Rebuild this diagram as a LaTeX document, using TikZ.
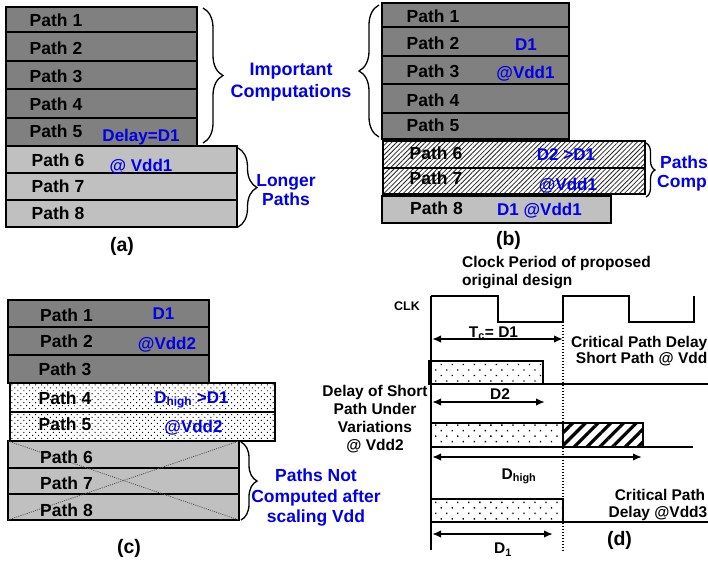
\documentclass[tikz,border=0pt]{standalone}
\usepackage{fontspec}
\setmainfont{Liberation Sans}
\usetikzlibrary{arrows.meta,patterns.meta,decorations.pathreplacing}
\definecolor{darkrow}{HTML}{808080}
\definecolor{lightrow}{HTML}{C0C0C0}
\definecolor{lblue}{RGB}{0,0,235}
\tikzset{
  rowbox/.style={draw=black, line width=1.2pt, inner sep=0pt, outer sep=0pt, anchor=north west},
  darkbox/.style={rowbox, fill=darkrow},
  lightbox/.style={rowbox, fill=lightrow},
  hatchbox/.style={rowbox, preaction={fill=white}, pattern={Lines[angle=45,distance=3.4pt,line width=0.8pt]}, pattern color=black!85},
  dotbox/.style={rowbox, preaction={fill=white}, pattern={Dots[angle=45,distance=4.2pt,radius=0.7pt]}, pattern color=black},
  pathlbl/.style={font=\fontsize{17.5}{21}\selectfont\bfseries, inner sep=0pt, text height=12.5pt, text depth=0pt},
  bluelbl/.style={font=\fontsize{17}{20}\selectfont\bfseries, text=lblue, inner sep=0pt, text height=12.2pt, text depth=0pt},
  capblue/.style={font=\fontsize{17.5}{21}\selectfont\bfseries, text=lblue, inner sep=0pt, text height=12.5pt, text depth=0pt},
  panellbl/.style={font=\fontsize{19.5}{22}\selectfont\bfseries, inner sep=0pt},
  dtext/.style={font=\fontsize{15.5}{18}\selectfont\bfseries, inner sep=0pt},
  curly/.style={decorate, decoration={brace, amplitude=#1}, line width=1.3pt},
  dimarrow/.style={{Latex[length=9pt,width=7.5pt]}-{Latex[length=9pt,width=7.5pt]}, line width=1.8pt},
  heavy/.style={line width=2pt},
  ddots/.style={draw=black, line width=1.6pt, inner sep=0pt, outer sep=0pt, anchor=north west, preaction={fill=white}, pattern={Dots[angle=45,distance=7.8pt,radius=0.95pt]}, pattern color=black},
  dhatch/.style={draw=black, line width=1.6pt, inner sep=0pt, outer sep=0pt, anchor=north west, preaction={fill=white}, pattern={Lines[angle=45,distance=9pt,line width=3.2pt]}, pattern color=black},
  crossln/.style={line width=0.8pt, dash pattern=on 1pt off 1.2pt, draw=black!70},
}
\begin{document}
\begin{tikzpicture}[x=1pt,y=-1pt]
\useasboundingbox (0,0) rectangle (708,563);
\fill[white] (0,0) rectangle (708,563);
\begin{scope}
\clip (0,0) rectangle (708,563);
% ---------------- (a)
\node[darkbox, minimum width=191pt, minimum height=25pt] (a1) at (6,7) {};
\node[darkbox, minimum width=191pt, minimum height=29pt] (a2) at (6,32) {};
\node[darkbox, minimum width=191pt, minimum height=28pt] (a3) at (6,61) {};
\node[darkbox, minimum width=191pt, minimum height=29pt] (a4) at (6,89) {};
\node[darkbox, minimum width=191pt, minimum height=28pt] (a5) at (6,118) {};
\node[lightbox, minimum width=231pt, minimum height=27pt] (a6) at (6,146) {};
\node[lightbox, minimum width=231pt, minimum height=27pt] (a7) at (6,173) {};
\node[lightbox, minimum width=231pt, minimum height=27pt] (a8) at (6,200) {};
\node[pathlbl] (a1t) at (56,20) {Path 1};
\node[pathlbl] (a2t) at (56,48) {Path 2};
\node[pathlbl] (a3t) at (56,76) {Path 3};
\node[pathlbl] (a4t) at (56,104) {Path 4};
\node[pathlbl] (a5t) at (56,131) {Path 5};
\node[pathlbl] (a6t) at (58,160) {Path 6};
\node[pathlbl] (a7t) at (58,186) {Path 7};
\node[pathlbl] (a8t) at (58,213) {Path 8};
\node[bluelbl] (aDel) at (141,135) {Delay=D1};
\node[bluelbl] (aVdd) at (141,165) {@ Vdd1};
\draw[curly=20] (203,8) -- (203,143);
\node[capblue, font=\fontsize{18}{21}\selectfont\bfseries] (aImp) at (291,69) {Important};
\node[capblue, font=\fontsize{18}{21}\selectfont\bfseries] (aCom) at (291,91) {Computations};
\draw[curly=19] (238,148) -- (238,227);
\node[capblue] (aLon) at (286,180.5) {Longer};
\node[capblue] (aPat) at (286,199) {Paths};
\node[panellbl] (aLbl) at (122,246.5) {(a)};
% ---------------- (b)
\node[darkbox, minimum width=187pt, minimum height=24pt] (b1) at (382,3) {};
\node[darkbox, minimum width=187pt, minimum height=29pt] (b2) at (382,27) {};
\node[darkbox, minimum width=187pt, minimum height=28pt] (b3) at (382,56) {};
\node[darkbox, minimum width=187pt, minimum height=29pt] (b4) at (382,84) {};
\node[darkbox, minimum width=187pt, minimum height=26pt] (b5) at (382,113) {};
\node[hatchbox, minimum width=262pt, minimum height=27pt] (b6) at (383,141) {};
\node[hatchbox, minimum width=262pt, minimum height=26pt] (b7) at (383,168) {};
\node[lightbox, minimum width=229pt, minimum height=27pt] (b8) at (382,196) {};
\node[pathlbl] (b1t) at (433,16) {Path 1};
\node[pathlbl] (b2t) at (433,43.5) {Path 2};
\node[pathlbl] (b3t) at (433,71) {Path 3};
\node[pathlbl] (b4t) at (433,100) {Path 4};
\node[pathlbl] (b5t) at (433,125) {Path 5};
\node[pathlbl] (b6t) at (436,153.5) {Path 6};
\node[pathlbl] (b7t) at (436,178) {Path 7};
\node[pathlbl] (b8t) at (436.5,208.5) {Path 8};
\node[bluelbl] (bD1) at (526,44) {D1};
\node[bluelbl] (bV1) at (525.5,72) {@Vdd1};
\node[bluelbl] (bD2) at (566,154) {D2 >D1};
\node[bluelbl] (bV2) at (568,184) {@Vdd1};
\node[bluelbl] (bD3) at (539.5,209) {D1 @Vdd1};
\draw[curly=20] (379,137) -- (379,5);
\draw[curly=9] (646,143) -- (646,197);
\node[capblue, anchor=west] (bPat) at (660,162) {Paths};
\node[capblue, anchor=west] (bCom) at (657,181) {Comp};
\node[panellbl] (bLbl) at (508.5,240) {(b)};
% ---------------- (c)
\node[darkbox, minimum width=201pt, minimum height=27pt] (c1) at (8,300) {};
\node[darkbox, minimum width=201pt, minimum height=28pt] (c2) at (8,327) {};
\node[darkbox, minimum width=201pt, minimum height=28pt] (c3) at (8,355) {};
\node[dotbox, minimum width=265pt, minimum height=29pt] (c4) at (10,383) {};
\node[dotbox, minimum width=265pt, minimum height=29pt] (c5) at (10,412) {};
\node[lightbox, minimum width=231pt, minimum height=27pt] (c6) at (8,441) {};
\node[lightbox, minimum width=231pt, minimum height=26pt] (c7) at (8,468) {};
\node[lightbox, minimum width=231pt, minimum height=26pt] (c8) at (8,494) {};
\draw[crossln] (c6.north west) -- (c8.south east);
\draw[crossln] (c8.south west) -- (c6.north east);
\node[pathlbl] (c1t) at (66.5,315) {Path 1};
\node[pathlbl] (c2t) at (66.5,341.5) {Path 2};
\node[pathlbl] (c3t) at (65,369.5) {Path 3};
\node[pathlbl] (c4t) at (65,398) {Path 4};
\node[pathlbl] (c5t) at (65,424.5) {Path 5};
\node[pathlbl] (c6t) at (66.5,457) {Path 6};
\node[pathlbl] (c7t) at (66.5,483.5) {Path 7};
\node[pathlbl] (c8t) at (66.5,510) {Path 8};
\node[bluelbl] (cD1) at (163.5,313.5) {D1};
\node[bluelbl] (cV1) at (167,343) {@Vdd2};
\node[bluelbl] (cD2) at (191.5,397) {D\textsubscript{high} >D1};
\node[bluelbl] (cV2) at (193.5,426) {@Vdd2};
\draw[curly=16] (241,442) -- (241,520);
\node[capblue] (cL1) at (316,475.5) {Paths Not};
\node[capblue] (cL2) at (316,496.5) {Computed after};
\node[capblue] (cL3) at (316,516.5) {scaling Vdd};
\node[panellbl] (cLbl) at (129,548.5) {(c)};
% ---------------- (d)
\node[dtext, anchor=base west] (dT1) at (462,267) {Clock Period of proposed};
\node[dtext, anchor=base west] (dT2) at (462,285) {original design};
\node[font=\fontsize{12.5}{14}\selectfont\bfseries, inner sep=0pt] (clk) at (407,306) {CLK};
\node[ddots, minimum width=114pt, minimum height=23pt] (d1) at (429,361) {};
\node[ddots, minimum width=132pt, minimum height=24pt] (d2) at (431,423) {};
\node[dhatch, minimum width=80pt, minimum height=24pt] (d2h) at (563,423) {};
\node[ddots, minimum width=132pt, minimum height=23pt] (d3) at (431,499) {};
\coordinate (axT) at (431,296);
\coordinate (axB) at (431,550);
\coordinate (b1R) at (708,384);
\coordinate (b2R) at (693,447);
\coordinate (b3R) at (708,522);
\draw[heavy] (axT) -- (axB);
\draw[heavy] (431,384) -- (b1R);
\draw[heavy] (d2h.south east) -- (b2R);
\draw[heavy] (d3.south east) -- (b3R);
\draw[heavy, line join=miter] (axT) -- (498,296) -- (498,321.5) -- (563,321.5) -- (563,296) -- (629,296) -- (629,321.5) -- (694,321.5) -- (694,296);
\draw[line width=2pt, dash pattern=on 1.5pt off 1.5pt] (563,321.5) -- (563,550);
\coordinate (tcL) at (432,339); \coordinate (tcR) at (563,339);
\coordinate (d2L) at (432,402); \coordinate (d2R) at (545,402);
\coordinate (dhL) at (432,457); \coordinate (dhR) at (642,457);
\coordinate (d1L) at (432,534); \coordinate (d1R) at (553,534);
\draw[dimarrow] (tcL) -- (tcR);
\draw[dimarrow] (d2L) -- (d2R);
\draw[dimarrow] (dhL) -- (dhR);
\draw[dimarrow] (d1L) -- (d1R);
\node[dtext, anchor=base] (tc) at (493.5,337) {T\textsubscript{c}= D1};
\node[dtext, anchor=base] (d2t) at (500,399.5) {D2};
\node[dtext, anchor=base] (dht) at (519,479) {D\textsubscript{high}};
\node[dtext, anchor=base] (d1t) at (503,553.5) {D\textsubscript{1}};
\node[dtext, anchor=base] (dl1) at (375,396.5) {Delay of Short};
\node[dtext, anchor=base] (dl2) at (375,414.5) {Path Under};
\node[dtext, anchor=base] (dl3) at (375,432.5) {Variations};
\node[dtext, anchor=base] (dl4) at (375,450.5) {@ Vdd2};
\node[dtext, anchor=base east] (cr1) at (707.5,347.5) {Critical Path Delay};
\node[dtext, anchor=base east] (cr2) at (707.5,363) {Short Path @ Vdd};
\node[dtext, anchor=base] (cr3) at (660,500.5) {Critical Path};
\node[dtext, anchor=base] (cr4) at (658,517) {Delay @Vdd3};
\node[panellbl] (dLbl) at (619.5,540) {(d)};
\end{scope}
\end{tikzpicture}
\end{document}
